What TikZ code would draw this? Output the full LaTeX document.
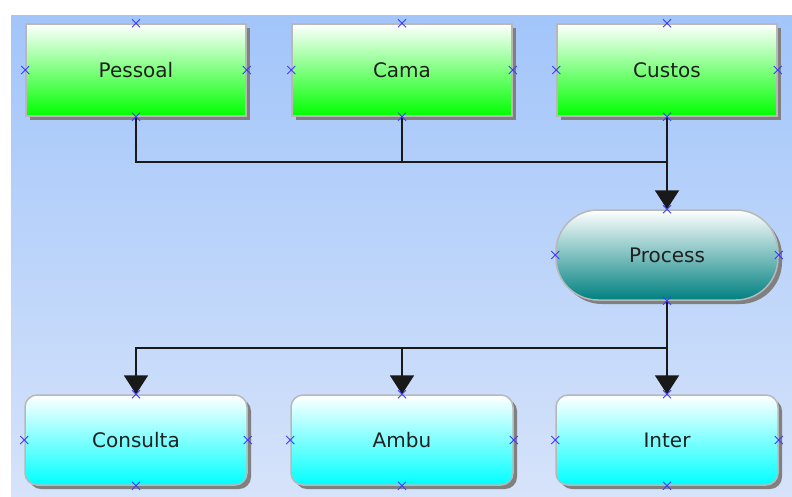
\documentclass[tikz,border=0pt]{standalone}
\usepackage{fontspec}
\setmainfont{DejaVu Sans}
\usetikzlibrary{arrows.meta,shadows}
\definecolor{bgtop}{RGB}{162,197,250}
\definecolor{bgbot}{RGB}{214,227,250}
\definecolor{bordergray}{RGB}{184,184,184}
\definecolor{shadowgray}{RGB}{128,128,128}
\definecolor{boxgreen}{RGB}{0,255,0}
\definecolor{boxteal}{RGB}{0,128,128}
\definecolor{boxcyan}{RGB}{0,255,255}
\definecolor{xblue}{RGB}{60,60,255}
\definecolor{textcol}{RGB}{32,32,32}
\newcommand\anchorx[1]{\draw[xm] (#1) ++(-4,-4) -- ++(8,8) (#1) ++(-4,4) -- ++(8,-8);}
\begin{document}
\begin{tikzpicture}[x=1pt,y=-1pt,
  box/.style={draw=bordergray, line width=1.5pt, minimum width=220pt, minimum height=92pt,
    inner sep=0pt, font=\fontsize{20}{24}\selectfont, text=textcol,
    drop shadow={shadow xshift=4pt, shadow yshift=-4pt, fill=shadowgray, opacity=1}},
  greenbox/.style={box, top color=white, bottom color=boxgreen},
  procbox/.style={box, minimum width=222pt, minimum height=90pt, rounded corners=42pt,
    top color=white, bottom color=boxteal},
  cyanbox/.style={box, minimum width=222pt, minimum height=90pt, rounded corners=12pt,
    top color=white, bottom color=boxcyan},
  conn/.style={line width=2pt, draw=black!90},
  arr/.style={conn, -{Triangle[width=24pt,length=19pt]}},
  xm/.style={draw=xblue, line width=1pt}]
\useasboundingbox (0,0) rectangle (792,496);
\fill[white] (0,0) rectangle (792,496);
\shade[top color=bgtop, bottom color=bgbot] (11,15) rectangle (792,496);

\node[greenbox] (pessoal) at (136,70) {Pessoal};
\node[greenbox] (cama) at (402,70) {Cama};
\node[greenbox] (custos) at (667,70) {Custos};
\node[procbox] (process) at (667,255) {Process};
\node[cyanbox] (consulta) at (136,440) {Consulta};
\node[cyanbox] (ambu) at (402,440) {Ambu};
\node[cyanbox] (inter) at (667,440) {Inter};

\coordinate (j1) at (667,162);
\coordinate (j2) at (667,348);

\draw[conn] (pessoal.south) |- (j1);
\draw[conn] (cama.south) -- (cama.south |- j1);
\draw[arr] (custos.south) -- (process.north);
\draw[arr] (process.south) -- (j2) -| (consulta.north);
\draw[arr] (ambu.north |- j2) -- (ambu.north);
\draw[arr] (process.south) -- (inter.north);

\foreach \n in {pessoal,cama,custos,process,consulta,ambu,inter}{
  \anchorx{\n.north}
  \anchorx{\n.south}
  \anchorx{\n.west}
  \anchorx{\n.east}
}
\end{tikzpicture}
\end{document}
